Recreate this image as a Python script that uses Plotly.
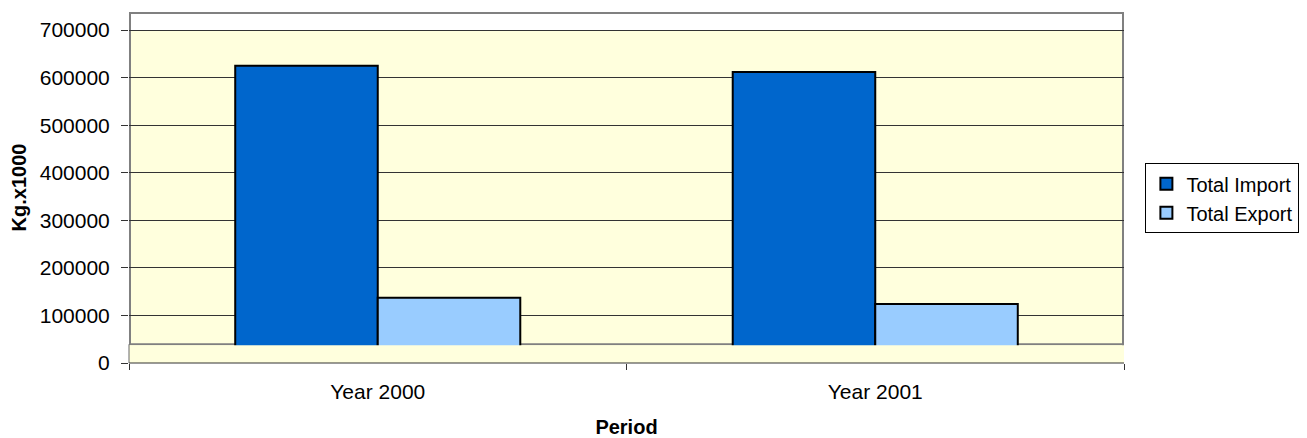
import plotly.graph_objects as go

categories = ["Year 2000", "Year 2001"]
total_import = [625000, 612000]
total_export = [137000, 124000]
y_ticks = [0, 100000, 200000, 300000, 400000, 500000, 600000, 700000]

FONT = "Arial, Liberation Sans, sans-serif"
YELLOW = "#FFFFDD"

fig = go.Figure()
fig.add_trace(go.Bar(
    x=categories, y=total_import, name="Total Import",
    marker=dict(color="#0066CC", line=dict(color="#000000", width=2)),
))
fig.add_trace(go.Bar(
    x=categories, y=total_export, name="Total Export",
    marker=dict(color="#99CCFF", line=dict(color="#000000", width=2)),
))

shapes = [
    # yellow wall
    dict(type="rect", xref="paper", yref="y", x0=0, x1=1, y0=0, y1=700000,
         fillcolor=YELLOW, line=dict(width=0), layer="below"),
    # wall border
    dict(type="rect", xref="paper", yref="paper", x0=0.001, x1=0.999, y0=0.0533, y1=0.997,
         fillcolor="rgba(0,0,0,0)", line=dict(color="#808080", width=2), layer="between"),
    # floor band
    dict(type="rect", xref="paper", yref="paper", x0=0.0, x1=0.998, y0=0.0, y1=0.0505,
         fillcolor=YELLOW, line=dict(width=0), layer="above"),
    # floor left edge and front edge (axis line)
    dict(type="line", xref="paper", yref="paper", x0=0, x1=0, y0=0, y1=0.0533,
         line=dict(color="#666666", width=1), layer="above"),
    dict(type="line", xref="paper", yref="paper", x0=0, x1=1, y0=0, y1=0,
         line=dict(color="#333333", width=1), layer="above"),
]

fig.update_layout(
    width=1299, height=430,
    margin=dict(l=121, r=183, t=4, b=75, autoexpand=False),
    paper_bgcolor="white", plot_bgcolor="white",
    font=dict(family=FONT, size=21, color="#000000"),
    barmode="group", bargap=0.427, bargroupgap=0,
    shapes=shapes,
    showlegend=True,
    legend=dict(
        x=1.0215, y=0.569, xanchor="left", yanchor="top",
        bgcolor="white", bordercolor="#000000", borderwidth=1,
        font=dict(family=FONT, size=20, color="#000000"),
        itemsizing="constant", itemwidth=30,
    ),
    xaxis=dict(
        title=dict(text="<b>Period</b>", font=dict(family=FONT, size=20), standoff=22),
        automargin=False,
        showline=False,
        ticks="outside", ticklen=6, tickcolor="#333333", tickson="boundaries",
        ticklabelstandoff=14,
        showgrid=False, zeroline=False,
    ),
    yaxis=dict(
        title=dict(text="<b>Kg.x1000</b>", font=dict(family=FONT, size=20), standoff=18),
        automargin=False,
        range=[0, 738000], tickvals=y_ticks,
        tickformat="d",
        showline=False,
        ticks="outside", ticklen=7, tickcolor="#333333",
        ticklabelstandoff=7,
        showgrid=True, gridcolor="#333333", gridwidth=1,
        zeroline=False,
    ),
)

fig.write_html("out.html")
